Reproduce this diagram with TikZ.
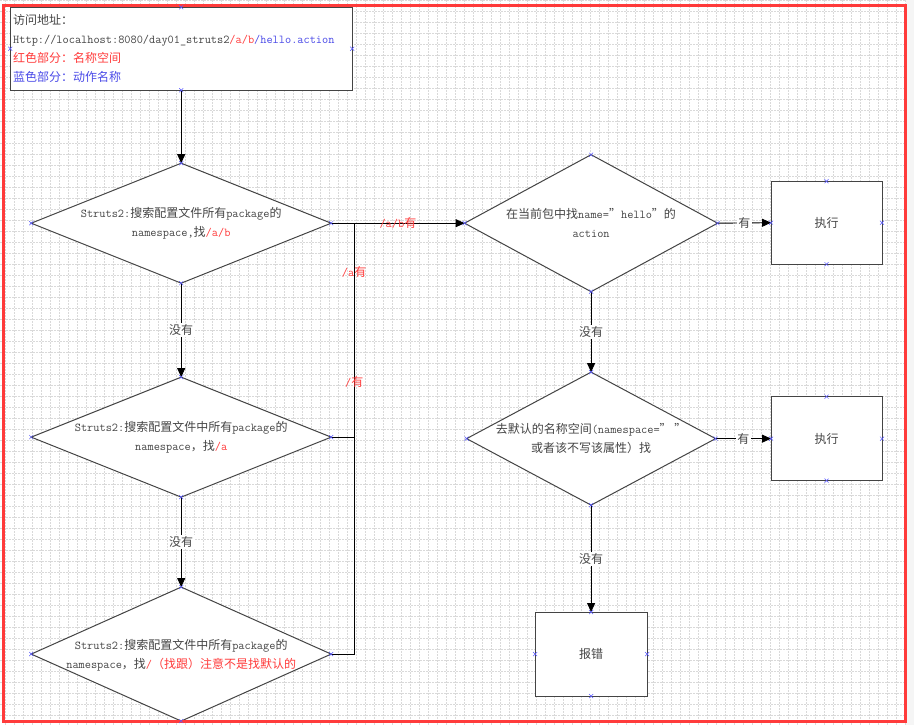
\documentclass[tikz,border=0pt]{standalone}
\usepackage{fontspec}
\newfontfamily\cjk{Noto Sans CJK SC}
\usetikzlibrary{arrows.meta,shapes.geometric}
\definecolor{hired}{HTML}{FF3B3B}
\definecolor{hiblue}{HTML}{4A4AE8}
\definecolor{ink}{HTML}{444444}
\newcommand{\zh}[1]{{\cjk #1}}
\newcommand{\rd}[1]{\textcolor{hired}{#1}}
\newcommand{\bl}[1]{\textcolor{hiblue}{#1}}

\begin{document}
\begin{tikzpicture}[x=1pt, y=-1pt,
  every node/.style={font=\ttfamily\fontsize{12}{19}\selectfont, text=ink},
  dia/.style 2 args={diamond, draw=ink, line width=1pt, fill=white, inner sep=0pt, outer sep=0pt, minimum width=#1, minimum height=#2},
  box/.style 2 args={rectangle, draw=ink, line width=1pt, fill=white, outer sep=0pt, minimum width=#1, minimum height=#2},
  dtxt/.style={align=center, inner sep=0pt},
  lbl/.style={fill=white, inner sep=1.5pt},
  rlbl/.style={text=hired, inner sep=1pt},
  conn/.style={draw=black, line width=0.9pt},
  gridln/.style={draw=gray!30, line width=0.5pt, dash pattern=on 2pt off 1pt},
  xmk/.style={draw=blue!65, line width=0.5pt},
  >={Triangle[length=9pt,width=8pt]}]

% canvas
\fill[white] (0,0) rectangle (914,725);
\foreach \gx in {5,14,...,905} \draw[gridln] (\gx,0) -- (\gx,725);
\foreach \gy in {0,11,...,725} \draw[gridln] (0,\gy) -- (906,\gy);
\fill[gray!8] (906,0) rectangle (914,725);

\node[box={342}{83}, text width=336pt, align=left, inner sep=3pt] (info) at (181,48.5) {\zh{访问地址：}\\
Http://localhost:8080/day01\_struts2\rd{/a/b}\bl{/hello.action}\\
\rd{\zh{红色部分：名称空间}}\\
\bl{\zh{蓝色部分：动作名称}}};

% left column
\node[dia={300}{120}] (q1) at (181,223) {};
\node[dtxt] (q1t) at (q1) {Struts2:\zh{搜索配置文件所有}package\zh{的}\\namespace,\zh{找}\rd{/a/b}};
\node[dia={300}{120}] (q2) at (181,437) {};
\node[dtxt] (q2t) at (q2) {Struts2:\zh{搜索配置文件中所有}package\zh{的}\\namespace\zh{，找}\rd{/a}};
\node[dia={300}{134}] (q3) at (181,654) {};
\node[dtxt] (q3t) at ([yshift=-1.5pt]q3) {Struts2:\zh{搜索配置文件中所有}package\zh{的}\\namespace\zh{，找}\rd{/\zh{（找跟）注意不是找默认的}}};

% right column
\node[dia={253}{137}] (q4) at (591,223) {};
\node[dtxt] (q4t) at (q4) {\zh{在当前包中找}name=\zh{”}hello\zh{”的}\\action};
\node[dia={249}{133}] (q5) at (591,438.5) {};
\node[dtxt] (q5t) at (q5) {\zh{去默认的名称空间}(namespace=\zh{” ”}\\\zh{或者该不写该属性）找}};
\node[box={111}{83}] (ok1) at (826.5,222.5) {\zh{执行}};
\node[box={111}{84}] (ok2) at (826.5,438.5) {\zh{执行}};
\node[box={112}{84}] (err) at (591,654) {\zh{报错}};

\coordinate (jn) at (354,223);

\draw[conn,->] (info.south) -- (q1.north);
\draw[conn,->] (q1.south) -- node[lbl]{\zh{没有}} (q2.north);
\draw[conn,->] (q2.south) -- node[lbl]{\zh{没有}} (q3.north);
\draw[conn,->] (q1.east) -- node[rlbl]{/a/b\zh{有}} (q4.west);
\draw[conn] (q2.east) -| node[rlbl, pos=0.885]{/a\zh{有}} (jn);
\draw[conn] (q3.east) -| node[rlbl, pos=0.816]{/\zh{有}} (jn);
\draw[conn,->] (q4.east) -- node[lbl]{\zh{有}} (ok1.west);
\draw[conn,->] (q4.south) -- node[lbl]{\zh{没有}} (q5.north);
\draw[conn,->] (q5.east) -- node[lbl]{\zh{有}} (ok2.west);
\draw[conn,->] (q5.south) -- node[lbl]{\zh{没有}} (err.north);

\draw[hired, line width=3pt] (3,5) rectangle (905,721);

% connection points
\foreach \n in {info,q1,q2,q3,q4,q5,ok1,ok2,err}
  \foreach \a in {north,south,east,west}
    \draw[xmk] (\n.\a) +(-2,-2) -- +(2,2) +(-2,2) -- +(2,-2);
\end{tikzpicture}
\end{document}
